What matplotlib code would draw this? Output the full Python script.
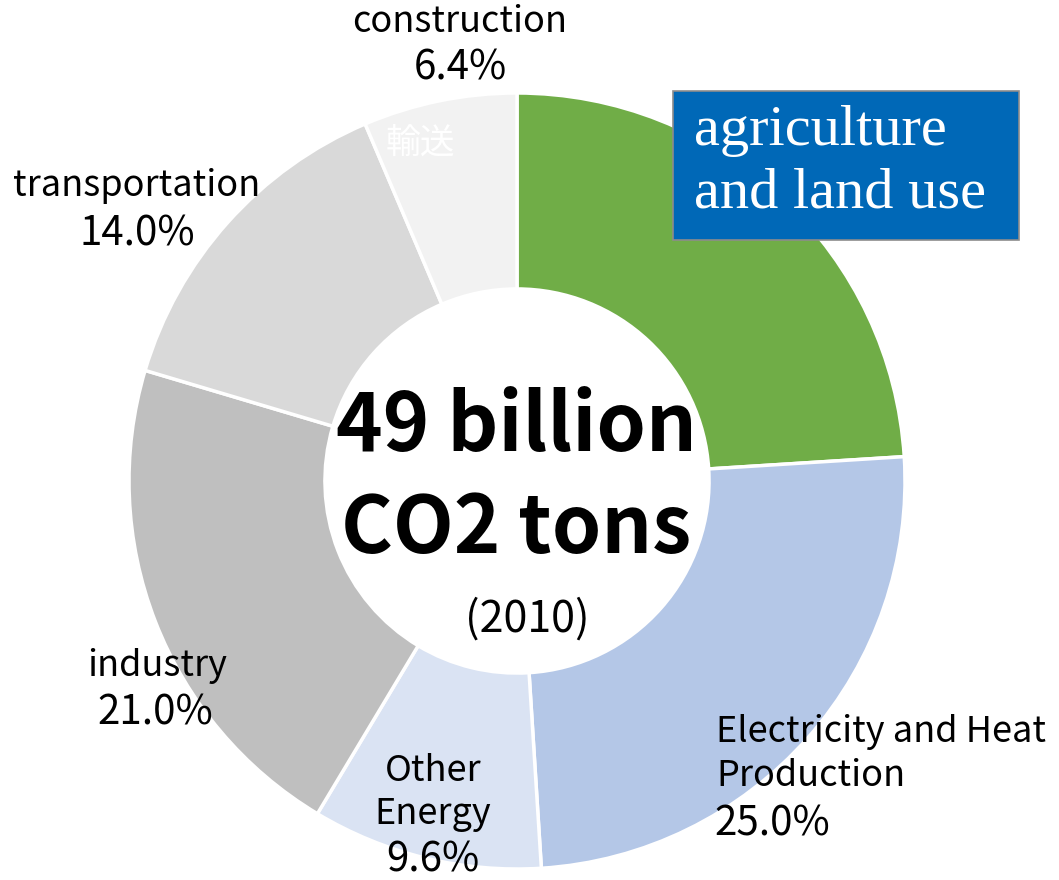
import matplotlib.pyplot as plt
from matplotlib.patches import Rectangle

plt.rcParams['font.family'] = ['Noto Sans CJK JP', 'DejaVu Sans']

# sector shares (%), clockwise from 12 o'clock
sectors = ['agriculture and land use', 'Electricity and Heat Production', 'Other Energy',
           'industry', 'transportation', 'construction']
shares = [24.0, 25.0, 9.6, 21.0, 14.0, 6.4]
colors = ['#70AD47', '#B4C7E7', '#DAE3F3', '#BFBFBF', '#D9D9D9', '#F2F2F2']

W, H = 1059, 880
fig = plt.figure(figsize=(W / 100, H / 100), dpi=100)
ax = fig.add_axes([0, 0, 1, 1])

cx, cy, r = 517, H - 481, 388
ax.pie(shares, colors=colors, startangle=90, counterclock=False,
       radius=r, center=(cx, cy), frame=False,
       wedgeprops=dict(width=r * 0.505, edgecolor='white', linewidth=2.5))
ax.set_xlim(0, W)
ax.set_ylim(0, H)
ax.set_aspect('equal')
ax.set_axis_off()


def px(y):
    # pixel row -> data y
    return H - y


name_fs = 26
pct_fs = 29

# construction
ax.text(460, px(22), 'construction', fontsize=name_fs, ha='center', va='center')
ax.text(460, px(68), f'{shares[5]:.1f}%', fontsize=pct_fs, ha='center', va='center')
ax.text(420, px(143), '輸送', fontsize=25, ha='center', va='center', color='white')

# transportation
ax.text(137, px(186), 'transportation', fontsize=name_fs, ha='center', va='center')
ax.text(137, px(234), f'{shares[4]:.1f}%', fontsize=pct_fs, ha='center', va='center')

# industry
ax.text(157, px(666), 'industry', fontsize=name_fs, ha='center', va='center')
ax.text(155, px(713), f'{shares[3]:.1f}%', fontsize=pct_fs, ha='center', va='center')

# other energy
ax.text(433, px(771), 'Other', fontsize=name_fs, ha='center', va='center')
ax.text(433, px(814), 'Energy', fontsize=name_fs, ha='center', va='center')
ax.text(433, px(860), f'{shares[2]:.1f}%', fontsize=pct_fs, ha='center', va='center')

# electricity
ax.text(716, px(732), 'Electricity and Heat', fontsize=name_fs, ha='left', va='center')
ax.text(716, px(776), 'Production', fontsize=name_fs, ha='left', va='center')
ax.text(714, px(824), f'{shares[1]:.1f}%', fontsize=pct_fs, ha='left', va='center')

# agriculture box
ax.add_patch(Rectangle((673, px(240)), 346, 149, facecolor='#0068B7',
                       edgecolor='#8C8C8C', linewidth=1.2, zorder=3))
ax.text(694, px(131), 'agriculture', fontsize=42, color='white', family='Liberation Serif',
        ha='left', va='center', zorder=4)
ax.text(694, px(193), 'and land use', fontsize=42, color='white', family='Liberation Serif',
        ha='left', va='center', zorder=4)

# centre text
ax.text(516, px(427), '49 billion', fontsize=57, fontweight='bold', ha='center', va='center')
ax.text(516, px(530), 'CO2 tons', fontsize=57, fontweight='bold', ha='center', va='center')
ax.text(527, px(620), '(2010)', fontsize=31, ha='center', va='center')

fig.savefig('out.png', dpi=100)
